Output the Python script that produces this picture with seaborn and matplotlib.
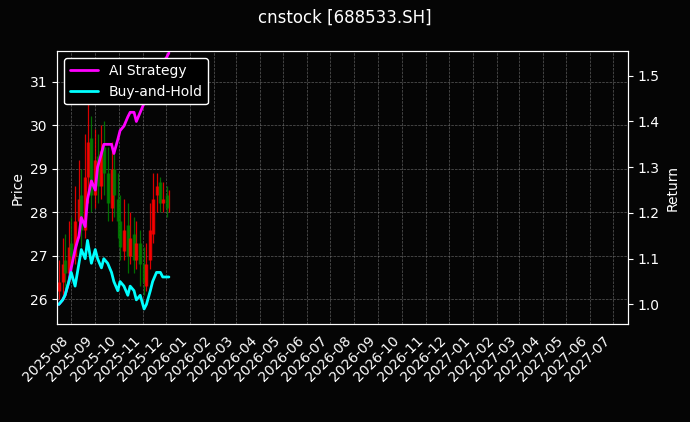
import numpy as np
import pandas as pd
import seaborn as sns
import matplotlib.pyplot as plt

# candles every 3 business days
opens = [26.2,26.4,26.9,26.6,27.3,27.0,27.8,28.4,27.6,28.8,29.7,28.4,29.3,28.6,29.5,28.9,28.1,29.0,28.3,27.8,27.1,27.7,27.0,27.5,26.9,27.3,26.8,26.3,26.9,27.5,28.4,28.7,28.2,28.4,28.2]
closes = [26.4,26.8,26.6,27.2,27.0,27.8,28.3,27.6,28.8,29.6,28.4,29.2,28.6,29.4,28.9,28.2,29.0,28.4,27.8,27.2,27.6,27.0,27.4,26.9,27.3,26.8,26.4,26.8,27.6,28.3,28.6,28.2,28.3,28.1,28.2]
highs = [26.9,27.4,27.5,27.8,27.9,28.6,29.2,29.0,29.8,30.8,30.2,29.9,29.8,30.0,30.1,29.5,29.6,29.4,28.9,28.4,28.3,28.2,28.0,27.9,27.8,27.6,27.2,27.3,28.2,28.9,28.9,28.8,28.7,28.6,28.5]
lows = [26.0,26.1,26.2,26.4,26.6,26.8,27.4,27.2,27.4,28.2,28.0,28.1,28.2,28.3,28.4,27.8,27.8,27.9,27.4,26.9,26.9,26.6,26.8,26.6,26.7,26.3,26.1,26.2,26.7,27.3,28.0,28.0,28.0,27.9,28.0]
ai_ret = [1.00,1.01,1.02,1.05,1.08,1.12,1.15,1.19,1.17,1.23,1.27,1.25,1.30,1.33,1.35,1.35,1.35,1.33,1.36,1.38,1.39,1.41,1.42,1.42,1.40,1.42,1.44,1.46,1.48,1.50,1.51,1.52,1.53,1.54,1.55]
bh_ret = [1.00,1.01,1.02,1.05,1.07,1.04,1.09,1.12,1.10,1.14,1.09,1.12,1.10,1.08,1.10,1.09,1.07,1.05,1.03,1.05,1.04,1.02,1.04,1.03,1.01,1.02,0.99,1.00,1.03,1.05,1.07,1.07,1.06,1.06,1.06]

dates = pd.bdate_range('2025-07-16', periods=len(closes), freq='3B')
df = pd.DataFrame({'date': dates, 'open': opens, 'close': closes, 'high': highs,
                   'low': lows, 'AI Strategy': ai_ret, 'Buy-and-Hold': bh_ret})

sns.set_style('dark')
bg = '#050505'
plt.rcParams.update({'figure.facecolor': bg, 'axes.facecolor': bg, 'text.color': 'white',
                     'axes.labelcolor': 'white', 'xtick.color': 'white', 'ytick.color': 'white',
                     'axes.edgecolor': 'white'})
plt.rcParams['font.family'] = ['DejaVu Sans']

fig, ax = plt.subplots(figsize=(6.9, 4.22), dpi=100)
cols = np.where(df['close'] >= df['open'], 'red', 'green')
ax.vlines(df['date'], df['low'], df['high'], colors=cols, lw=0.9, alpha=0.85)
ax.vlines(df['date'], df[['open', 'close']].min(axis=1), df[['open', 'close']].max(axis=1),
          colors=cols, lw=2.5, alpha=0.85)
ax.set_ylim(25.43, 31.69)
ax.set_ylabel('Price')
ax.grid(True, color='gray', ls='--', lw=0.5, alpha=0.7)

ax2 = ax.twinx()
sns.lineplot(data=df, x='date', y='AI Strategy', color='magenta', lw=2, ax=ax2, label='AI Strategy')
sns.lineplot(data=df, x='date', y='Buy-and-Hold', color='cyan', lw=2, ax=ax2, label='Buy-and-Hold')
ax2.set_ylim(0.957, 1.553)
ax2.set_ylabel('Return')
ax2.set_xlabel('')
ax.set_xlabel('')

ticks = pd.date_range('2025-08-01', '2027-07-01', freq='MS')
ax.set_xticks(ticks)
ax.set_xticklabels([t.strftime('%Y-%m') for t in ticks], rotation=45, ha='right')
ax.set_xlim(pd.Timestamp('2025-07-14'), pd.Timestamp('2027-07-20'))

leg = ax2.legend(loc='upper left', facecolor='black', edgecolor='white', framealpha=1)
for t in leg.get_texts():
    t.set_color('white')

fig.suptitle('cnstock [688533.SH]', color='white')
fig.subplots_adjust(left=0.083, right=0.91, top=0.878, bottom=0.232)
fig.savefig('out.png', facecolor=bg)
